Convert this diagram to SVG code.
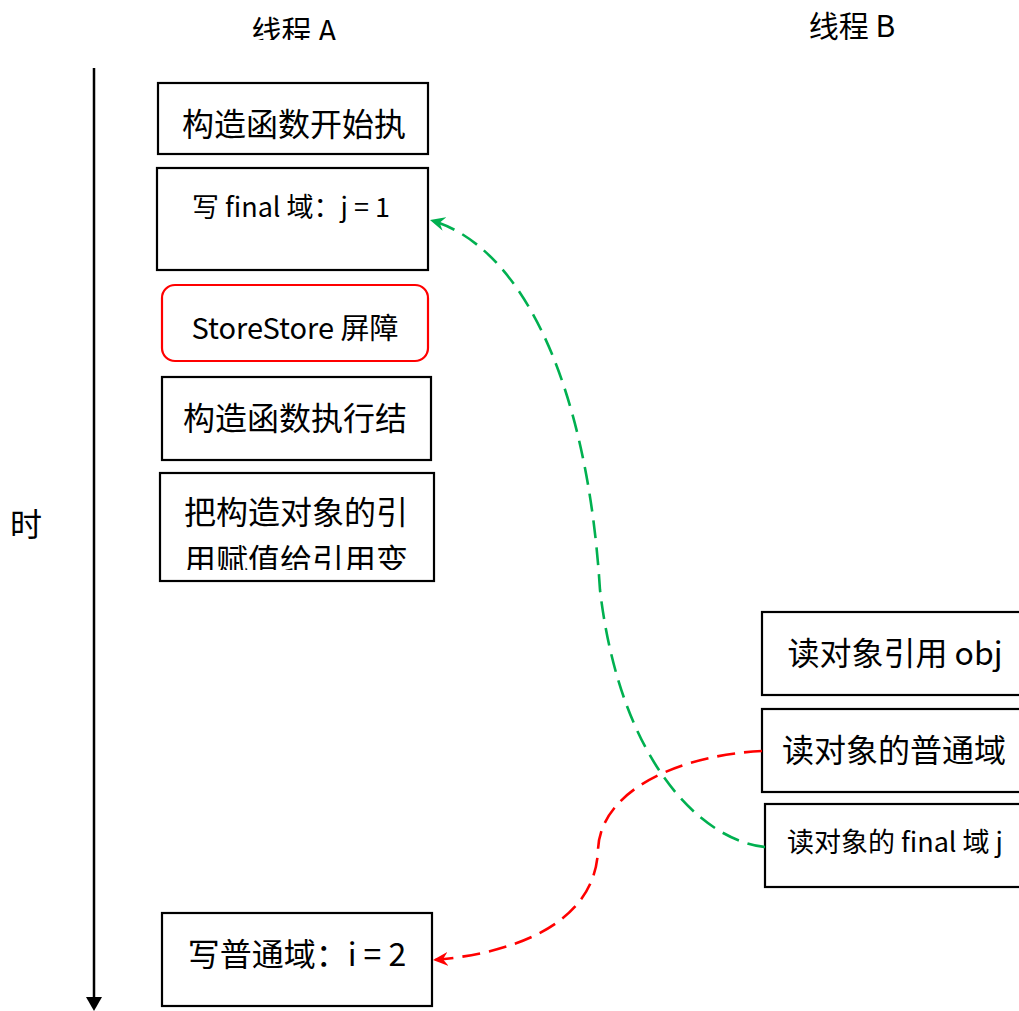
<svg xmlns="http://www.w3.org/2000/svg" width="1019" height="1011" viewBox="0 0 1019 1011">
<style>
  text { font-family: "Noto Sans CJK SC", "Liberation Sans", sans-serif; fill: #000; text-anchor: middle; }
  .box { fill: #fff; stroke: #000; stroke-width: 2.2; }
  .barrier { fill: #fff; stroke: #ff0000; stroke-width: 2.2; }
  .big { font-size: 32px; }
  .title { font-size: 30px; }
  .mid { font-size: 29px; }
  .small { font-size: 27px; }
  .green { fill: none; stroke: #00b050; stroke-width: 2.6; stroke-dasharray: 18 9; }
  .red { fill: none; stroke: #ff0000; stroke-width: 2.6; stroke-dasharray: 18 9; }
</style>
<defs>
  <marker id="ag" markerUnits="userSpaceOnUse" markerWidth="16" markerHeight="14" viewBox="0 0 16 14" refX="15" refY="7" orient="auto">
    <path d="M0,0 L15,7 L0,14 L5,7 z" fill="#00b050"/>
  </marker>
  <marker id="ar" markerUnits="userSpaceOnUse" markerWidth="16" markerHeight="14" viewBox="0 0 16 14" refX="15" refY="7" orient="auto">
    <path d="M0,0 L15,7 L0,14 L5,7 z" fill="#ff0000"/>
  </marker>
  <clipPath id="clipTitle"><rect x="200" y="0" width="200" height="40"/></clipPath>
  <clipPath id="clipLine2"><rect x="160" y="540" width="274" height="30"/></clipPath>
</defs>
<rect width="1019" height="1011" fill="#fff"/>

<g id="titles">
  <text class="title" x="294" y="42" clip-path="url(#clipTitle)">线程 A</text>
  <text class="title" x="852" y="37">线程 B</text>
</g>

<g id="time-axis">
  <line x1="94" y1="68" x2="94" y2="998" stroke="#000" stroke-width="2.5"/>
  <polygon points="86,997 102,997 94,1011" fill="#000"/>
  <text class="big" x="26" y="536">时</text>
</g>

<g id="a1">
  <rect class="box" x="158" y="83" width="270" height="71"/>
  <text class="big" x="294" y="136">构造函数开始执</text>
</g>
<g id="a2">
  <rect class="box" x="157" y="168" width="271" height="102"/>
  <text class="small" x="291" y="217">写 final 域：j = 1</text>
</g>
<g id="a3">
  <rect class="barrier" x="162" y="285" width="266" height="76" rx="13" ry="13"/>
  <text class="mid" x="295" y="339">StoreStore 屏障</text>
</g>
<g id="a4">
  <rect class="box" x="162" y="377" width="269" height="83"/>
  <text class="big" x="295" y="430">构造函数执行结</text>
</g>
<g id="a5">
  <rect class="box" x="160" y="473" width="274" height="108"/>
  <text class="big" x="296" y="524">把构造对象的引</text>
  <text class="big" x="296" y="572" clip-path="url(#clipLine2)">用赋值给引用变</text>
</g>
<g id="a6">
  <rect class="box" x="162" y="913" width="270" height="93"/>
  <text class="big" x="297" y="966">写普通域：i = 2</text>
</g>

<g id="b1">
  <rect class="box" x="762" y="612" width="270" height="83"/>
  <text class="big" x="895" y="665">读对象引用 obj</text>
</g>
<g id="b2">
  <rect class="box" x="762" y="709" width="270" height="83"/>
  <text class="big" x="894" y="762">读对象的普通域</text>
</g>
<g id="b3">
  <rect class="box" x="765" y="804" width="270" height="83"/>
  <text class="small" x="895" y="852">读对象的 final 域 j</text>
</g>

<g id="connectors">
  <path class="green" d="M765,847 C700,840 620,760 600,590 C587,380 520,245 430,220" marker-end="url(#ag)"/>
  <path class="red" d="M762,751 C680,755 600,790 598,850 C595,930 500,955 433,960" marker-end="url(#ar)"/>
</g>
</svg>
